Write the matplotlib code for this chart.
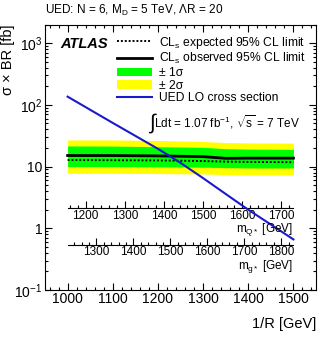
import numpy as np
import matplotlib
matplotlib.use('Agg')
import matplotlib.pyplot as plt
import matplotlib.ticker as ticker
import matplotlib.transforms as transforms
from matplotlib.lines import Line2D
from matplotlib.patches import Patch

plt.rcParams['font.family'] = ['Liberation Sans', 'DejaVu Sans']
plt.rcParams['mathtext.fontset'] = 'custom'
plt.rcParams['mathtext.rm'] = 'Liberation Sans'
plt.rcParams['mathtext.it'] = 'Liberation Sans:italic'
plt.rcParams['mathtext.bf'] = 'Liberation Sans:bold'

# limit bands vs 1/R [GeV]
r_inv = [1000, 1100, 1200, 1300, 1350, 1400, 1500]
expected = [12.8, 12.7, 12.6, 12.3, 12.0, 11.9, 11.8]
observed = [15.1, 15.1, 14.9, 14.5, 13.6, 13.7, 13.7]
sig1_lo = [10.0, 10.0, 9.9, 9.8, 9.6, 9.5, 9.5]
sig1_hi = [21.6, 21.5, 21.0, 20.5, 19.5, 19.2, 19.0]
sig2_lo = [7.8, 7.8, 7.7, 7.6, 7.4, 7.3, 7.3]
sig2_hi = [27.0, 27.0, 26.5, 25.5, 24.5, 24.2, 24.0]

# UED LO cross section
r_ued = [1000, 1100, 1200, 1250, 1300, 1350, 1400, 1450, 1500]
xsec_ued = [136, 51, 19.4, 11.5, 6.5, 3.6, 2.0, 1.15, 0.66]

ytick_vals = [0.1, 1, 10, 100, 1000]
ytick_labels = ['10$^{-1}$', '1', '10', '10$^{2}$', '10$^{3}$']
xtick_vals = [1000, 1100, 1200, 1300, 1400, 1500]

mq_ratio = 1.154
mg_ratio = 1.222
mq_ticks = [1200, 1300, 1400, 1500, 1600, 1700]
mg_ticks = [1300, 1400, 1500, 1600, 1700, 1800]

fig = plt.figure(figsize=(3.22, 3.37), dpi=100)
ax = fig.add_axes([0.1398, 0.1395, 0.9814 - 0.1398, 0.927 - 0.1395])

ax.fill_between(r_inv, sig2_lo, sig2_hi, color='#ffff00', lw=0)
ax.fill_between(r_inv, sig1_lo, sig1_hi, color='#00ff00', lw=0)
ax.plot(r_inv, observed, color='black', lw=2)
ax.plot(r_inv, expected, color='black', lw=1.4, ls=(0, (1, 1)))
ax.plot(r_ued, xsec_ued, color='#1a1acc', lw=1.5)

ax.set_yscale('log')
ax.set_xlim(950, 1550)
ax.set_ylim(0.1, 2000)
ax.yaxis.set_major_locator(ticker.FixedLocator(ytick_vals))
ax.yaxis.set_major_formatter(ticker.FixedFormatter(ytick_labels))
ax.yaxis.set_minor_locator(ticker.LogLocator(base=10, subs=np.arange(2, 10)))
ax.yaxis.set_minor_formatter(ticker.NullFormatter())
ax.xaxis.set_major_locator(ticker.FixedLocator(xtick_vals))
ax.xaxis.set_minor_locator(ticker.MultipleLocator(20))
ax.tick_params(which='both', direction='in', top=True, right=True, labelsize=10)
ax.tick_params(which='major', length=5, width=0.8)
ax.tick_params(which='minor', length=2.5, width=0.8)
ax.tick_params(axis='x', pad=1.5)
ax.tick_params(axis='y', pad=2)

ax.set_xlabel('1/R [GeV]', loc='right', fontsize=10.5, labelpad=8)
ax.set_ylabel('σ × BR [fb]', loc='top', fontsize=10.5)
ax.yaxis.set_label_coords(-0.112, 1.0)

ax.text(0.0, 1.025, 'UED: N = 6, M$_\\mathregular{D}$ = 5 TeV, ΛR = 20',
        transform=ax.transAxes, ha='left', va='bottom', fontsize=8.5)
ax.text(0.055, 0.927, 'ATLAS', transform=ax.transAxes, fontsize=10.5,
        fontweight='bold', fontstyle='italic', va='center', ha='left')
ax.text(0.383, 0.63, '∫', transform=ax.transAxes, fontsize=15,
        va='center', ha='left')
ax.text(0.402, 0.634, 'Ldt = 1.07 fb$^{-1}$, $\\sqrt{\\mathregular{s}}$ = 7 TeV',
        transform=ax.transAxes, fontsize=8.5, va='center', ha='left')

handles = [
    Line2D([], [], color='black', lw=1.4, ls=(0, (1, 1))),
    Line2D([], [], color='black', lw=2),
    Patch(facecolor='#00ff00', lw=0),
    Patch(facecolor='#ffff00', lw=0),
    Line2D([], [], color='#1a1acc', lw=1.5),
]
labels = [
    'CL$_\\mathregular{s}$ expected 95% CL limit',
    'CL$_\\mathregular{s}$ observed 95% CL limit',
    '± 1σ',
    '± 2σ',
    'UED LO cross section',
]
ax.legend(handles, labels, loc='upper left', bbox_to_anchor=(0.266, 0.962),
          frameon=False, fontsize=8.7, handlelength=2.9, handletextpad=0.6,
          labelspacing=0.05, borderpad=0, borderaxespad=0, handleheight=0.7)

# secondary mass axes drawn inside the frame
for ratio, ticks_, ypos, name, lab_y in [
        (mq_ratio, mq_ticks, 0.308, 'm$_\\mathregular{Q*}$ [GeV]', 0.229),
        (mg_ratio, mg_ticks, 0.1695, 'm$_\\mathregular{g*}$ [GeV]', 0.087)]:
    sec = ax.secondary_xaxis(ypos, functions=(lambda x, r=ratio: x * r,
                                              lambda x, r=ratio: x / r))
    lo, hi = r_inv[0] * ratio, r_inv[-1] * ratio
    sec.spines['bottom'].set_bounds(lo, hi)
    sec.spines['top'].set_visible(False)
    sec.xaxis.set_major_locator(ticker.FixedLocator(ticks_))
    minor = np.arange(np.ceil(lo / 20) * 20, hi, 20)
    sec.xaxis.set_minor_locator(ticker.FixedLocator(minor))
    sec.tick_params(which='both', direction='in', labelsize=8.5, pad=1, width=0.8)
    sec.tick_params(which='major', length=5)
    sec.tick_params(which='minor', length=2.5)
    trans = transforms.blended_transform_factory(ax.transData, ax.transAxes)
    ax.text(r_inv[-1], lab_y, name, transform=trans, ha='right', va='center',
            fontsize=8.5)

fig.savefig('out.png', dpi=100)
